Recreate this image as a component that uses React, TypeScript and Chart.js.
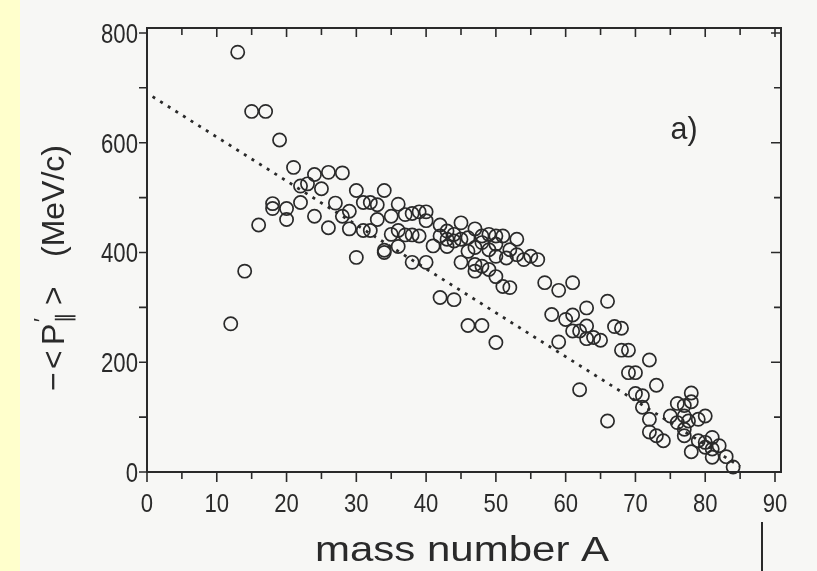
import React, { useEffect, useRef } from "react";
import { Chart, registerables } from "chart.js";

Chart.register(...registerables);

// mass number A of each nucleus
const massA = [
  12, 13, 14, 15, 17, 16, 19, 18, 18, 20, 20, 21, 22, 23, 22, 24, 25, 24, 26, 26,
  27, 28, 28, 29, 29, 30, 30, 31, 32, 33, 33, 31, 32, 34, 34, 34, 35, 35, 36, 36,
  36, 37, 37, 38, 38, 38, 39, 39, 40, 40, 40, 41, 42, 42, 42, 43, 43, 43, 44, 44,
  44, 45, 45, 45, 46, 46, 46, 47, 47, 47, 47, 48, 48, 48, 48, 49, 49, 49, 50, 50,
  50, 50, 50, 51, 51, 52, 51.5, 52, 53, 53, 54, 55, 56, 57, 59, 61, 58, 60, 61, 63,
  61, 62, 63, 63, 64, 65, 59, 66, 67, 68, 68, 69, 72, 69, 70, 73, 62, 70, 71, 71,
  72, 66, 72, 73, 74, 75, 76, 78, 78, 77, 76, 77, 77.6, 79, 80, 77, 77, 78, 79, 80,
  81, 80, 81, 82, 81, 83, 84,
];
// -<P'||> in MeV/c
const momentumP = [
  270, 765, 366, 657, 657, 450, 605, 489, 480, 480, 460, 555, 521, 525, 491, 542, 516, 466, 546, 445,
  490, 545, 466, 475, 443, 513, 391, 491, 491, 487, 460, 440, 440, 513, 400, 404, 466, 433, 488, 440,
  411, 469, 432, 471, 432, 382, 474, 430, 474, 458, 382, 412, 450, 430, 318, 439, 424, 411, 433, 421,
  314, 454, 424, 382, 427, 402, 267, 443, 409, 378, 366, 430, 418, 375, 267, 433, 405, 369, 430, 415,
  393, 356, 236, 430, 338, 405, 390, 336, 424, 396, 387, 393, 387, 345, 331, 345, 287, 278, 286, 299,
  257, 257, 266, 243, 245, 240, 237, 311, 265, 262, 222, 222, 204, 181, 181, 158, 150, 143, 139, 118,
  96, 93, 73, 66, 57, 102, 125, 144, 128, 121, 90, 102, 93, 96, 102, 78, 66, 37, 57, 54,
  63, 45, 42, 48, 27, 28, 9,
];
// dotted systematics line
const fitA = [0.8, 85];
const fitP = [684, 10];

const xTicks = [0, 5, 10, 15, 20, 25, 30, 35, 40, 45, 50, 55, 60, 65, 70, 75, 80, 85, 90];
const xLabels = ["0", "10", "20", "30", "40", "50", "60", "70", "80", "90"];
const yTicks = [0, 100, 200, 300, 400, 500, 600, 700, 800];
const yLabels = ["0", "200", "400", "600", "800"];

const INK = "#2a2a2a";
const FONT = '"Liberation Sans", Arial, sans-serif';

function txt(ctx: CanvasRenderingContext2D, s: string, x: number, y: number, size: number, sx: number, align: CanvasTextAlign) {
  ctx.save();
  ctx.font = `${size}px ${FONT}`;
  ctx.translate(x, y);
  ctx.scale(sx, 1);
  ctx.textAlign = align;
  ctx.textBaseline = "alphabetic";
  ctx.fillStyle = INK;
  ctx.fillText(s, 0, 0);
  ctx.restore();
}

const decor = {
  id: "decor",
  beforeDraw(chart: any) {
    const ctx = chart.ctx as CanvasRenderingContext2D;
    ctx.save();
    ctx.fillStyle = "#f7f7f5";
    ctx.fillRect(0, 0, chart.width, chart.height);
    ctx.fillStyle = "#ffffcc";
    ctx.fillRect(0, 0, 20, chart.height);
    ctx.restore();
  },
  afterDraw(chart: any) {
    const ctx = chart.ctx as CanvasRenderingContext2D;
    const { left, right, top, bottom } = chart.chartArea;
    const xs = chart.scales.x;
    const ys = chart.scales.y;
    ctx.save();
    ctx.strokeStyle = INK;
    ctx.lineWidth = 2;
    ctx.strokeRect(left, top, right - left, bottom - top);
    ctx.lineWidth = 1.6;
    ctx.beginPath();
    for (const v of xTicks) {
      const px = xs.getPixelForValue(v);
      const major = v % 10 === 0;
      ctx.moveTo(px, bottom);
      ctx.lineTo(px, bottom + (major ? 10 : 7));
      ctx.moveTo(px, top);
      ctx.lineTo(px, top + (major ? 9 : 7));
    }
    for (const v of yTicks) {
      const py = ys.getPixelForValue(v);
      const major = v % 200 === 0;
      ctx.moveTo(left, py);
      ctx.lineTo(left - 8, py);
      ctx.moveTo(right, py);
      ctx.lineTo(right - (major ? 10 : 7), py);
    }
    ctx.stroke();
    // artifact line below the axis
    ctx.lineWidth = 2;
    ctx.beginPath();
    ctx.moveTo(762, 522);
    ctx.lineTo(762, 571);
    ctx.stroke();
    ctx.restore();

    for (const l of xLabels) {
      const px = xs.getPixelForValue(Number(l));
      txt(ctx, l, px, 512, 26, 0.85, "center");
    }
    for (const l of yLabels) {
      const py = ys.getPixelForValue(Number(l));
      txt(ctx, l, left - 9, py + 10, 27, 0.82, "right");
    }
    txt(ctx, "mass number A", 462, 561, 35, 1.2, "center");
    txt(ctx, "a)", 684, 139, 32, 0.95, "center");

    // y title, rotated; t measured upward from screen y = 391
    ctx.save();
    ctx.translate(64, 391);
    ctx.rotate(-Math.PI / 2);
    ctx.fillStyle = INK;
    ctx.textBaseline = "alphabetic";
    ctx.textAlign = "left";
    const big = `32px ${FONT}`;
    const small = `21px ${FONT}`;
    ctx.font = big;
    ctx.fillText("\u2212", 0, 0);
    ctx.fillText("<", 22, 0);
    ctx.fillText("P", 46, 0);
    ctx.font = small;
    ctx.fillText("\u2032", 69, -16);
    ctx.fillText("\u2225", 68, 7);
    ctx.font = big;
    ctx.fillText(">", 86, 0);
    ctx.fillText("(MeV/c)", 134, 0);
    ctx.restore();
  },
};

export default function App() {
  const ref = useRef<HTMLCanvasElement | null>(null);
  useEffect(() => {
    if (!ref.current) return;
    const points = massA.map((a, i) => ({ x: a, y: momentumP[i] }));
    const line = fitA.map((a, i) => ({ x: a, y: fitP[i] }));
    const chart = new Chart(ref.current, {
      type: "scatter",
      data: {
        datasets: [
          {
            data: line,
            showLine: true,
            borderColor: INK,
            borderWidth: 2.8,
            borderDash: [3, 6],
            pointRadius: 0,
            fill: false,
          } as any,
          {
            data: points,
            pointStyle: "circle",
            pointRadius: 6.6,
            pointBorderWidth: 1.7,
            borderColor: INK,
            backgroundColor: "rgba(0,0,0,0)",
            pointBackgroundColor: "rgba(0,0,0,0)",
            pointBorderColor: INK,
            clip: false,
          } as any,
        ],
      },
      options: {
        responsive: false,
        animation: false,
        devicePixelRatio: 1,
        layout: { padding: { left: 147, right: 36, top: 28, bottom: 99 } },
        plugins: { legend: { display: false }, tooltip: { enabled: false } },
        scales: {
          x: { type: "linear", min: 0, max: 90.86, display: false },
          y: { type: "linear", min: 0, max: 809, display: false },
        },
      },
      plugins: [decor],
    });
    return () => chart.destroy();
  }, []);
  return (
    <div style={{ position: "fixed", left: 0, top: 0, width: 817, height: 571 }}>
      <canvas ref={ref} width={817} height={571} style={{ display: "block" }} />
    </div>
  );
}
